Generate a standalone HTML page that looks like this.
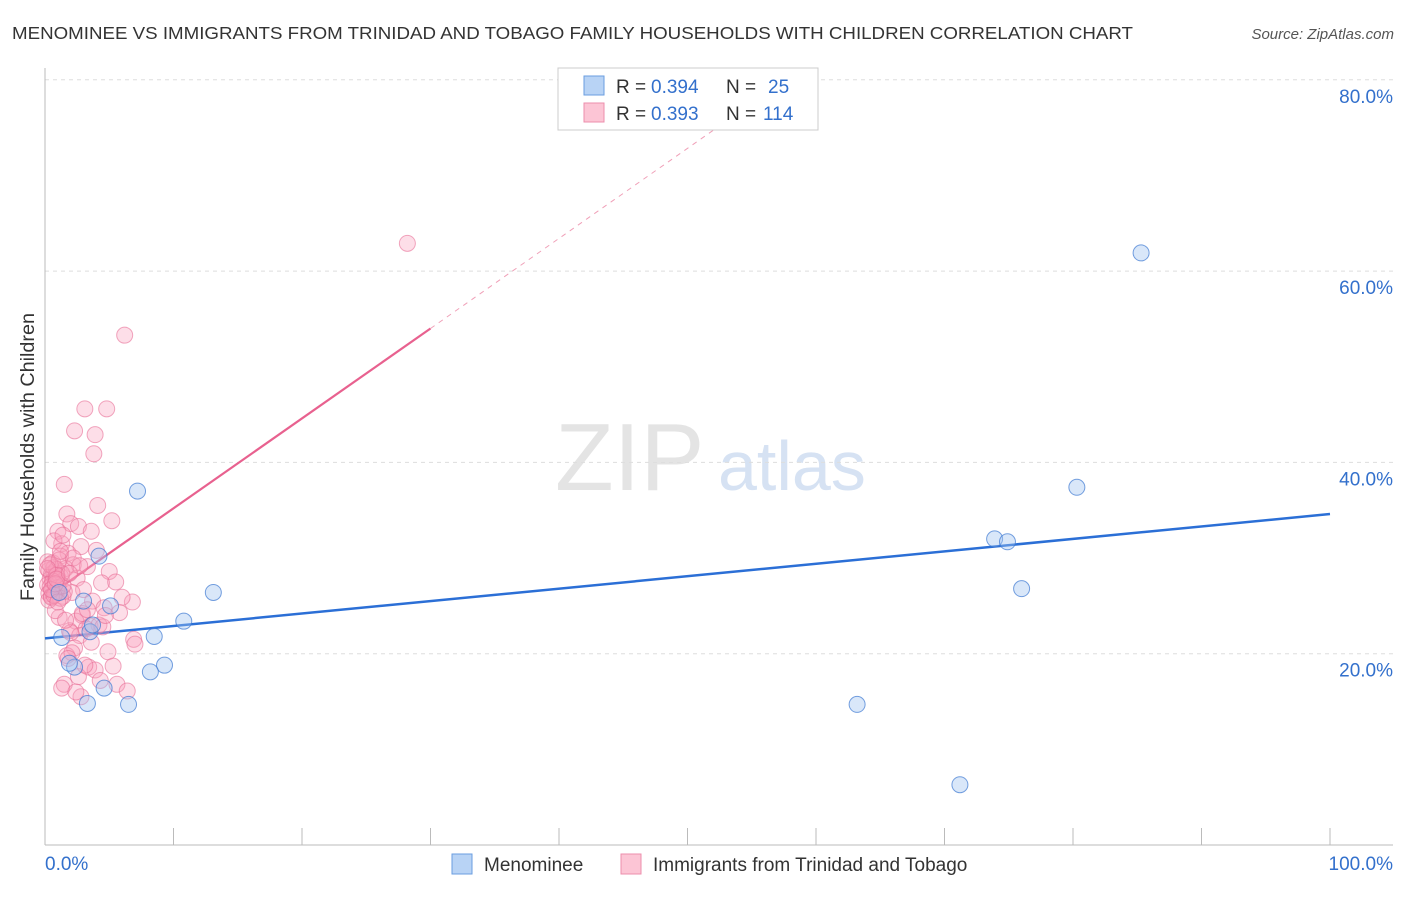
<!DOCTYPE html>
<html><head><meta charset="utf-8"><style>
body{margin:0;background:#fff;font-family:"Liberation Sans",sans-serif}
svg text{font-family:"Liberation Sans",sans-serif}
</style></head><body>
<svg id="c" width="1406" height="892">
<text x="12" y="39" font-size="17.5" fill="#333" textLength="1121" lengthAdjust="spacingAndGlyphs">MENOMINEE VS IMMIGRANTS FROM TRINIDAD AND TOBAGO FAMILY HOUSEHOLDS WITH CHILDREN CORRELATION CHART</text>
<text x="1394" y="39" font-size="15" fill="#555" font-style="italic" text-anchor="end">Source: ZipAtlas.com</text>
<text x="555" y="490" font-size="96" fill="#e4e4e4" font-family="Liberation Serif">ZIP</text>
<text x="718" y="490" font-size="70" fill="#d6e2f3">atlas</text>
<g id="grid"></g><g id="axes"></g><g id="lines"></g><g id="pts"></g>
<text transform="translate(34,457) rotate(-90)" font-size="19" fill="#333" text-anchor="middle" textLength="288" lengthAdjust="spacingAndGlyphs">Family Households with Children</text>
<g>
<rect x="558" y="68" width="260" height="62" fill="#fff" stroke="#ccc"/>
<rect x="584" y="76" width="20" height="19" fill="#b8d3f5" stroke="#6a9ee0"/>
<rect x="584" y="103" width="20" height="19" fill="#fcc5d5" stroke="#ec8eac"/>
<text x="616" y="93" font-size="19" fill="#333">R =</text>
<text x="651" y="93" font-size="19" fill="#3370cc">0.394</text>
<text x="726" y="93" font-size="19" fill="#333">N =</text>
<text x="768" y="93" font-size="19" fill="#3370cc">25</text>
<text x="616" y="120" font-size="19" fill="#333">R =</text>
<text x="651" y="120" font-size="19" fill="#3370cc">0.393</text>
<text x="726" y="120" font-size="19" fill="#333">N =</text>
<text x="763" y="120" font-size="19" fill="#3370cc">114</text>
</g>
<g>
<rect x="452" y="854" width="20" height="20" fill="#b8d3f5" stroke="#6a9ee0"/>
<text x="484" y="871" font-size="19" fill="#333">Menominee</text>
<rect x="621" y="854" width="20" height="20" fill="#fcc5d5" stroke="#ec8eac"/>
<text x="653" y="871" font-size="19" fill="#333">Immigrants from Trinidad and Tobago</text>
</g>
</svg>
<script>
const yTicks=[20,40,60,80];
const yTickLabels=["20.0%","40.0%","60.0%","80.0%"];
const xTickLabels=["0.0%","100.0%"];
const blueX=[7.2,4.2,13.1,10.8,8.5,1.3,3.5,2.3,9.3,8.2,4.6,3.3,6.5,3.0,1.1,85.3,80.3,73.9,74.9,76.0,63.2,71.2,5.1,1.9,3.7];
const blueY=[37.0,30.2,26.4,23.4,21.8,21.7,22.3,18.6,18.8,18.1,16.4,14.8,14.7,25.5,26.4,61.9,37.4,32.0,31.7,26.8,14.7,6.3,25.0,19.0,23.0];
const pinkX=[28.2,6.2,6.8,3.1,4.8,2.3,3.9,3.8,1.5,1.7,4.1,2.0,1.0,1.3,2.6,3.6,5.2,2.8,1.8,4.0,0.6,1.2,2.2,3.3,5.0,1.6,2.5,0.9,3.0,4.4,6.9,7.0,5.5,2.1,1.4,3.7,4.6,6.0,5.8,2.9,1.1,2.4,3.5,4.2,0.8,1.9,2.7,3.2,4.9,5.3,0.3,0.5,0.7,0.4,0.6,0.8,1.0,1.2,0.2,0.4,0.6,0.9,1.1,1.3,1.5,0.3,0.5,0.7,0.9,0.2,0.4,0.6,0.8,1.0,1.2,1.4,0.3,0.5,0.7,0.9,1.1,0.2,0.5,0.8,1.0,2.0,2.3,1.7,3.4,2.6,1.5,3.9,2.8,1.3,2.1,4.3,3.1,1.8,2.4,4.5,1.6,2.9,3.6,0.7,1.4,2.2,5.6,6.4,1.2,2.7,3.3,0.9,4.7,1.9];
const pinkY=[62.9,53.3,25.4,45.6,45.6,43.3,42.9,40.9,37.7,34.6,35.5,33.6,32.8,31.5,33.3,32.8,33.9,31.2,30.5,30.8,29.5,30.2,29.3,29.1,28.6,28.9,27.9,28.0,26.7,27.4,21.5,21.0,27.5,26.4,26.0,25.5,24.8,25.9,24.3,24.0,23.8,23.4,22.9,23.0,24.5,22.4,21.9,22.6,20.2,18.7,28.7,28.3,28.5,27.8,27.5,27.7,27.9,28.1,27.2,27.0,26.8,26.6,27.4,28.4,26.5,26.3,26.0,29.0,28.8,29.6,29.3,27.6,26.2,26.9,25.8,27.1,25.6,25.9,26.1,28.2,29.8,28.9,26.7,27.3,25.4,22.2,20.6,19.8,18.6,17.6,16.8,18.3,15.5,16.4,20.1,17.2,18.8,19.5,16.0,22.8,23.5,24.2,21.2,31.8,32.4,30.0,16.8,16.1,30.7,29.2,24.6,27.8,24.0,28.4];
const X=v=>45+v*12.85, Y=v=>845-v*9.565;
const ns="http://www.w3.org/2000/svg";
function mk(p,t,a){const e=document.createElementNS(ns,t);for(const k in a)e.setAttribute(k,a[k]);document.getElementById(p).appendChild(e);return e;}
yTicks.forEach((t,i)=>{
 const l=mk('grid','line',{x1:45,x2:1393,y1:Y(t),y2:Y(t),stroke:'#ddd','stroke-dasharray':'4,4'});
 
 
 const tx=mk('grid','text',{x:1393,y:Y(t)+23,'font-size':19,fill:'#3370cc','text-anchor':'end'});
 tx.textContent=yTickLabels[i];
 
 
});
let a=mk('axes','line',{x1:45,x2:45,y1:68,y2:845,stroke:'#bbb'});


a=mk('axes','line',{x1:45,x2:1393,y1:845,y2:845,stroke:'#bbb'});


for(let i=1;i<=10;i++){const t=mk('axes','line',{x1:X(i*10),x2:X(i*10),y1:828,y2:845,stroke:'#bbb'});
 
 }
let t0=mk('axes','text',{x:45,y:870,'font-size':19,fill:'#3370cc'});t0.textContent=xTickLabels[0];


let t1=mk('axes','text',{x:1393,y:870,'font-size':19,fill:'#3370cc','text-anchor':'end'});t1.textContent=xTickLabels[1];


pinkX.forEach((x,i)=>{const c=mk('pts','circle',{cx:X(x),cy:Y(pinkY[i]),r:8,fill:'rgba(248,160,188,0.35)',stroke:'rgba(232,110,150,0.6)','stroke-width':1});
 
 });
blueX.forEach((x,i)=>{const c=mk('pts','circle',{cx:X(x),cy:Y(blueY[i]),r:8,fill:'rgba(160,195,240,0.4)',stroke:'rgba(60,120,210,0.7)','stroke-width':1});
 
 });
let L=mk('lines','line',{x1:X(0),y1:Y(21.6),x2:X(100),y2:Y(34.6),stroke:'#2b6fd6','stroke-width':2.5});


L=mk('lines','line',{x1:X(0),y1:Y(25.8),x2:X(30),y2:Y(54),stroke:'#e8618f','stroke-width':2.2});


L=mk('lines','line',{x1:X(30),y1:Y(54),x2:X(54),y2:Y(76.6),stroke:'#f0a0b8','stroke-width':1,'stroke-dasharray':'5,5'});


</script>
</body></html>
